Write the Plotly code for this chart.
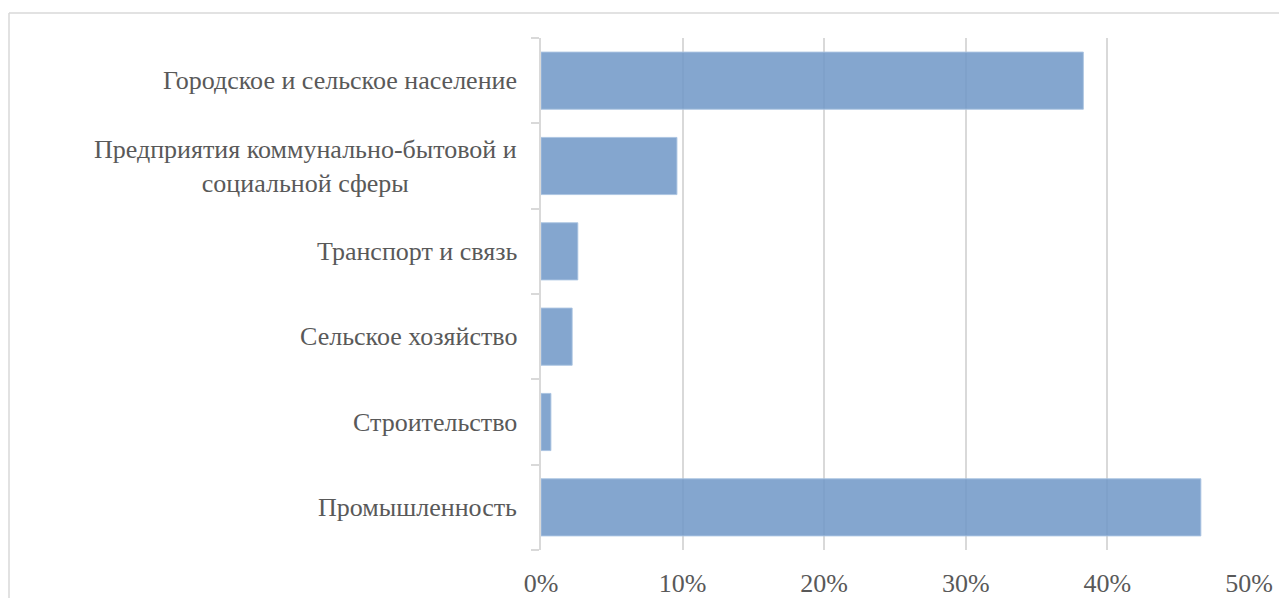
import plotly.graph_objects as go

# Share of consumption by sector, percent (bottom-to-top order on the chart)
categories = [
    "Промышленность",
    "Строительство",
    "Сельское хозяйство",
    "Транспорт и связь",
    "Предприятия коммунально-бытовой и<br>социальной сферы",
    "Городское и сельское население",
]
shares = [46.6, 0.7, 2.2, 2.6, 9.6, 38.3]
x_ticks = [0, 10, 20, 30, 40, 50]
x_tick_labels = ["0%", "10%", "20%", "30%", "40%", "50%"]

W, H = 1279, 598
L, R, T, B = 541, 30, 38, 48
FONT = "Liberation Serif, Times New Roman, serif"
FS = 26
TXT = "#595959"
GRID = "#d9d9d9"

fig = go.Figure(
    go.Bar(
        x=shares,
        y=categories,
        orientation="h",
        marker=dict(color="rgba(110,151,199,0.85)",
                    line=dict(color="rgba(170,195,225,0.9)", width=1)),
        width=0.67,
        hoverinfo="skip",
    )
)

# Category labels drawn as centred multi-line text
annotations = [
    dict(x=0, y=c, xref="paper", yref="y", text=c, showarrow=False,
         xanchor="right", xshift=-22, align="center",
         font=dict(family=FONT, size=FS, color=TXT))
    for c in categories
]

fw, fh = W - L - R, H - T - B
px = lambda v: (v - L) / fw
py = lambda v: (H - B - v) / fh
shapes = [
    dict(type="line", xref="paper", yref="paper", x0=px(9), x1=px(W + 5),
         y0=py(13), y1=py(13), line=dict(color=GRID, width=1.5)),
    dict(type="line", xref="paper", yref="paper", x0=px(9), x1=px(9),
         y0=py(13), y1=py(H + 5), line=dict(color=GRID, width=1.5)),
]

fig.update_layout(
    width=W, height=H,
    margin=dict(l=L, r=R, t=T, b=B, autoexpand=False),
    paper_bgcolor="white", plot_bgcolor="white",
    showlegend=False,
    annotations=annotations,
    shapes=shapes,
    font=dict(family=FONT, size=FS, color=TXT),
)
fig.update_xaxes(
    range=[0, 50], tickvals=x_ticks, ticktext=x_tick_labels,
    showgrid=True, gridcolor=GRID, gridwidth=1.5,
    zeroline=False, showline=False,
    ticks="outside", ticklen=10, tickcolor="rgba(0,0,0,0)",
    tickfont=dict(family=FONT, size=FS, color=TXT),
)
fig.update_yaxes(
    categoryorder="array", categoryarray=categories,
    showticklabels=False, showgrid=False, zeroline=False,
    showline=True, linecolor=GRID, linewidth=1.5,
    ticks="outside", tickson="boundaries", ticklen=8,
    tickcolor=GRID, tickwidth=1.5,
)

fig.write_html("out.html")
